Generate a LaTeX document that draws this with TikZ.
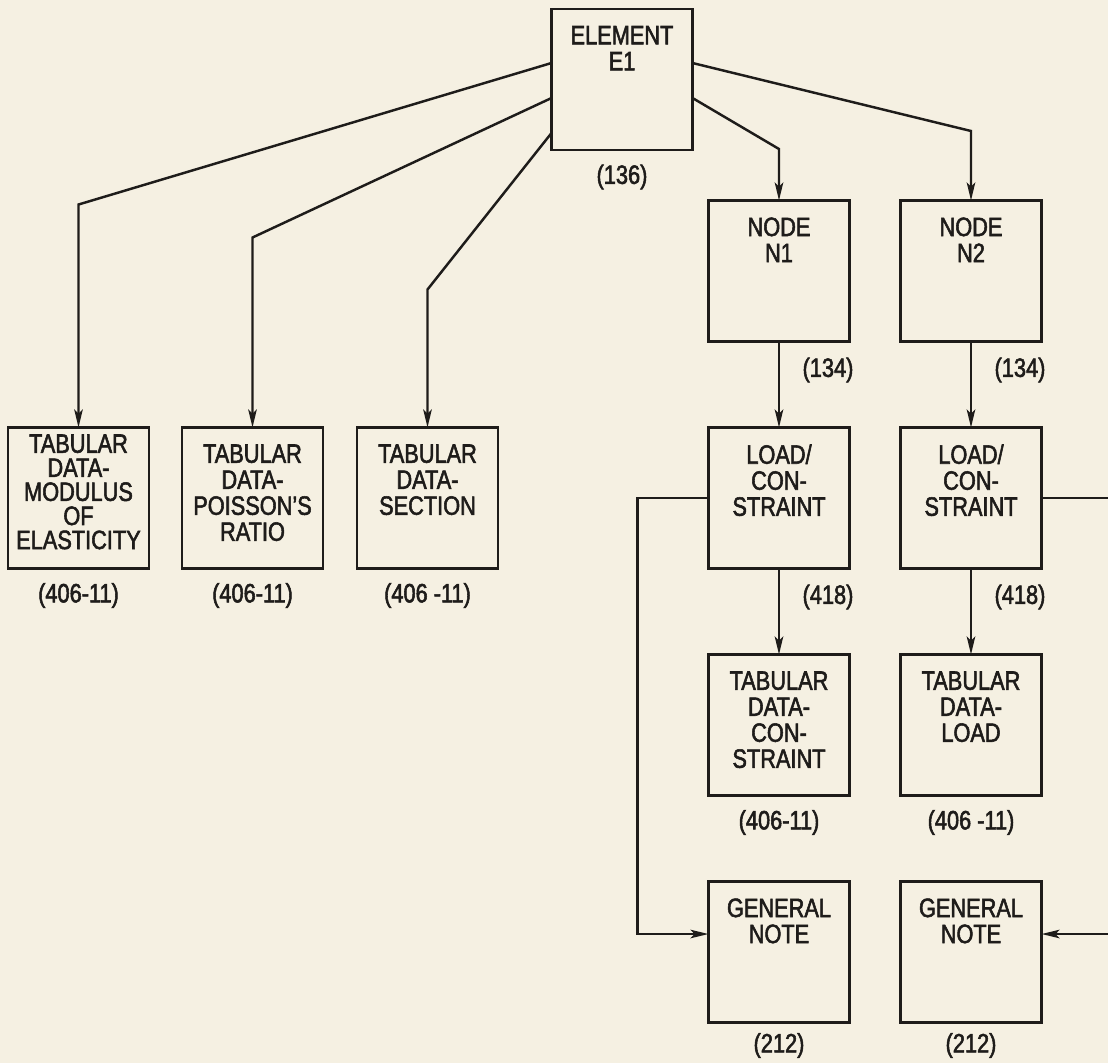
\documentclass[tikz,border=0pt]{standalone}
\usepackage{fontspec}
\setmainfont{Liberation Sans}[FakeStretch=0.82, FakeBold=2]
\usetikzlibrary{positioning,arrows.meta,calc}
\definecolor{paper}{RGB}{245,240,226}
\definecolor{ink}{RGB}{30,28,26}
\newcommand{\boxlines}[2][0.34cm]{\parbox[c][2.82cm][t]{2.82cm}{\centering\vspace*{#1}#2}}

\begin{document}
\begin{tikzpicture}[
    block/.style={draw=ink, line width=1.5pt, minimum width=2.82cm, minimum height=2.82cm, inner sep=0pt, outer sep=0pt, text=ink},
    ref/.style={inner sep=0pt, text=ink},
    arrow/.style={-{Stealth[length=3.6mm, width=1.7mm, inset=0.8mm]}, draw=ink, line width=1.4pt},
    node distance=1.72cm,
    font=\fontsize{15.1}{14.8}\selectfont
]
    % Paper
    \fill[paper] (0,0) rectangle (22.16,-21.26);
    \useasboundingbox (0,0) rectangle (22.16,-21.26);

    % Element
    \node[block] (elem) at (12.44,-1.59) {\boxlines{ELEMENT\\E1}};
    \node[ref] at ([yshift=-0.54cm]elem.south) {(136)};

    % Tabular data of the element
    \node[block] (tab1) at (1.57,-9.96) {\boxlines[0.14cm]{\fontsize{15.1}{13.7}\selectfont TABULAR\\DATA-\\MODULUS\\OF\\ELASTICITY}};
    \node[block, right=0.66cm of tab1] (tab2) {\boxlines{TABULAR\\DATA-\\POISSON'S\\RATIO}};
    \node[block, right=0.68cm of tab2] (tab3) {\boxlines{TABULAR\\DATA-\\SECTION}};
    \node[ref] at ([yshift=-0.54cm]tab1.south) {(406-11)};
    \node[ref] at ([yshift=-0.54cm]tab2.south) {(406-11)};
    \node[ref] at ([yshift=-0.54cm]tab3.south) {(406 -11)};

    % Nodes
    \node[block] (n1) at (15.58,-5.42) {\boxlines{NODE\\N1}};
    \node[block, right=1.02cm of n1] (n2) {\boxlines{NODE\\N2}};
    \node[ref] at ([shift={(0.98,-0.57)}]n1.south) {(134)};
    \node[ref] at ([shift={(0.98,-0.57)}]n2.south) {(134)};

    % Loads / constraints
    \node[block, below=of n1] (load1) {\boxlines{LOAD/\\CON-\\STRAINT}};
    \node[block, below=of n2] (load2) {\boxlines{LOAD/\\CON-\\STRAINT}};
    \node[ref] at ([shift={(0.98,-0.57)}]load1.south) {(418)};
    \node[ref] at ([shift={(0.98,-0.57)}]load2.south) {(418)};

    \node[block, below=of load1] (tabc) {\boxlines{TABULAR\\DATA-\\CON-\\STRAINT}};
    \node[block, below=of load2] (tabl) {\boxlines{TABULAR\\DATA-\\LOAD}};
    \node[ref] at ([yshift=-0.54cm]tabc.south) {(406-11)};
    \node[ref] at ([yshift=-0.54cm]tabl.south) {(406 -11)};

    % General notes
    \node[block, below=of tabc] (note1) {\boxlines{GENERAL\\NOTE}};
    \node[block, below=of tabl] (note2) {\boxlines{GENERAL\\NOTE}};
    \node[ref] at ([yshift=-0.46cm]note1.south) {(212)};
    \node[ref] at ([yshift=-0.46cm]note2.south) {(212)};

    % Connectors
    \draw[arrow] ([yshift=0.33cm]elem.west) -- ([yshift=4.46cm]tab1.north) -- (tab1.north);
    \draw[arrow] ([yshift=-0.37cm]elem.west) -- ([yshift=3.80cm]tab2.north) -- (tab2.north);
    \draw[arrow] ([yshift=-1.07cm]elem.west) -- ([yshift=2.76cm]tab3.north) -- (tab3.north);
    \draw[arrow] ([yshift=-0.37cm]elem.east) -- ([yshift=1.03cm]n1.north) -- (n1.north);
    \draw[arrow] ([yshift=0.33cm]elem.east) -- ([yshift=1.39cm]n2.north) -- (n2.north);
    \draw[arrow] (n1) -- (load1);
    \draw[arrow] (n2) -- (load2);
    \draw[arrow] (load1) -- (tabc);
    \draw[arrow] (load2) -- (tabl);
    \draw[arrow] (load1.west) -- ++(-1.42,0) |- ([yshift=0.36cm]note1.west);
    \draw[arrow] (load2.east) -- ++(1.40,0) |- ([yshift=0.36cm]note2.east);
\end{tikzpicture}
\end{document}
